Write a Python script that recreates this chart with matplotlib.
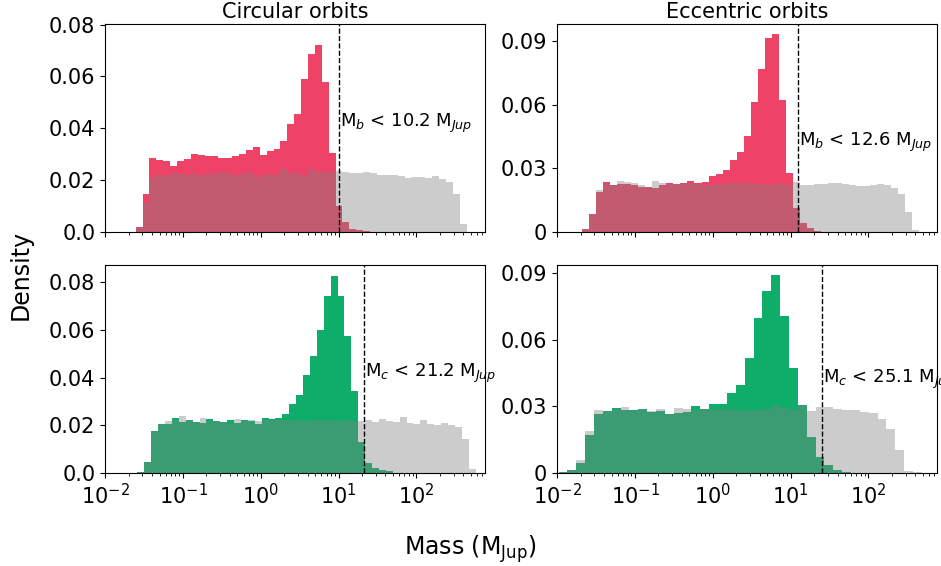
import numpy as np
import matplotlib
matplotlib.use("Agg")
import matplotlib.pyplot as plt

# log10 of the first bin edge and bin width (dex) for each panel
tl_start, tl_width = -1.608, 0.0886
tr_start, tr_width = -1.681, 0.0903
bl_start, bl_width = -1.586, 0.0887
br_start, br_width = -1.983, 0.1139

# planet b, circular orbits
tl_post = [0.0021, 0.0147, 0.0286, 0.0279, 0.0272, 0.0256, 0.0274, 0.0282, 0.0302, 0.0296,
           0.0292, 0.0292, 0.0284, 0.0286, 0.0292, 0.0299, 0.0318, 0.0326, 0.0296, 0.0313,
           0.0320, 0.0349, 0.0417, 0.0455, 0.0591, 0.0686, 0.0722, 0.0580, 0.0305, 0.0100,
           0.0040, 0.0012, 0.0009, 0.0004, 0, 0, 0, 0, 0, 0,
           0, 0, 0, 0, 0, 0, 0, 0]
tl_prior = [0.0020, 0.0111, 0.0208, 0.0219, 0.0216, 0.0227, 0.0227, 0.0219, 0.0225, 0.0220,
            0.0225, 0.0225, 0.0230, 0.0228, 0.0220, 0.0225, 0.0232, 0.0211, 0.0220, 0.0219,
            0.0219, 0.0241, 0.0229, 0.0229, 0.0214, 0.0241, 0.0232, 0.0231, 0.0233, 0.0237,
            0.0232, 0.0227, 0.0229, 0.0232, 0.0228, 0.0220, 0.0219, 0.0219, 0.0214, 0.0208,
            0.0211, 0.0211, 0.0207, 0.0216, 0.0205, 0.0192, 0.0147, 0.0031]

# planet b, eccentric orbits
tr_post = [0.0013, 0.0083, 0.0190, 0.0234, 0.0222, 0.0226, 0.0226, 0.0222, 0.0211, 0.0211,
           0.0209, 0.0220, 0.0231, 0.0228, 0.0230, 0.0241, 0.0230, 0.0236, 0.0264, 0.0274,
           0.0291, 0.0340, 0.0377, 0.0451, 0.0611, 0.0767, 0.0914, 0.0932, 0.0623, 0.0277,
           0.0112, 0.0041, 0.0017, 0.0006, 0, 0, 0, 0, 0, 0,
           0, 0, 0, 0, 0, 0, 0, 0]
tr_prior = [0.0013, 0.0083, 0.0198, 0.0226, 0.0222, 0.0241, 0.0234, 0.0230, 0.0220, 0.0211,
            0.0241, 0.0230, 0.0226, 0.0226, 0.0230, 0.0230, 0.0225, 0.0223, 0.0222, 0.0225,
            0.0228, 0.0230, 0.0230, 0.0229, 0.0228, 0.0226, 0.0222, 0.0226, 0.0225, 0.0222,
            0.0234, 0.0219, 0.0222, 0.0226, 0.0228, 0.0230, 0.0233, 0.0225, 0.0219, 0.0217,
            0.0217, 0.0219, 0.0225, 0.0222, 0.0206, 0.0178, 0.0094, 0.0010]

# planet c, circular orbits
bl_post = [0.0006, 0.0046, 0.0176, 0.0204, 0.0207, 0.0231, 0.0213, 0.0221, 0.0214, 0.0210,
           0.0225, 0.0218, 0.0213, 0.0224, 0.0210, 0.0224, 0.0217, 0.0207, 0.0230, 0.0228,
           0.0232, 0.0249, 0.0289, 0.0329, 0.0413, 0.0492, 0.0602, 0.0742, 0.0828, 0.0742,
           0.0574, 0.0343, 0.0130, 0.0043, 0.0022, 0.0014, 0.0007, 0, 0, 0,
           0, 0, 0, 0, 0, 0, 0, 0, 0]
bl_prior = [0.0006, 0.0046, 0.0176, 0.0204, 0.0218, 0.0222, 0.0238, 0.0221, 0.0214, 0.0232,
            0.0220, 0.0218, 0.0214, 0.0207, 0.0228, 0.0220, 0.0221, 0.0218, 0.0222, 0.0224,
            0.0222, 0.0224, 0.0224, 0.0222, 0.0220, 0.0224, 0.0222, 0.0221, 0.0224, 0.0220,
            0.0222, 0.0220, 0.0218, 0.0221, 0.0214, 0.0228, 0.0218, 0.0216, 0.0235, 0.0210,
            0.0207, 0.0221, 0.0207, 0.0203, 0.0210, 0.0200, 0.0193, 0.0144, 0.0018]

# planet c, eccentric orbits
br_post = [0.0003, 0.0012, 0.0047, 0.0170, 0.0265, 0.0278, 0.0293, 0.0286, 0.0286, 0.0290,
           0.0275, 0.0280, 0.0265, 0.0271, 0.0275, 0.0301, 0.0290, 0.0310, 0.0313, 0.0361,
           0.0395, 0.0516, 0.0700, 0.0821, 0.0892, 0.0707, 0.0474, 0.0305, 0.0162, 0.0072,
           0.0035, 0.0015, 0.0006, 0, 0, 0, 0, 0, 0, 0, 0]
br_prior = [0.0003, 0.0015, 0.0060, 0.0188, 0.0283, 0.0280, 0.0290, 0.0298, 0.0283, 0.0290,
            0.0280, 0.0290, 0.0268, 0.0295, 0.0290, 0.0285, 0.0288, 0.0286, 0.0290, 0.0287,
            0.0285, 0.0283, 0.0285, 0.0290, 0.0305, 0.0292, 0.0285, 0.0305, 0.0278, 0.0298,
            0.0298, 0.0290, 0.0283, 0.0283, 0.0275, 0.0271, 0.0245, 0.0200, 0.0102, 0.0009,
            0.0003]

# 2-sigma upper limits
limits = [10.2, 12.6, 21.2, 25.1]
limit_labels = [r'M$_b$ < 10.2 M$_{Jup}$', r'M$_b$ < 12.6 M$_{Jup}$',
                r'M$_c$ < 21.2 M$_{Jup}$', r'M$_c$ < 25.1 M$_{Jup}$']

red = '#EE4266'
green = '#0EAD69'

fig, axes = plt.subplots(2, 2, sharex=True, figsize=(9.41, 5.66), dpi=100)
fig.subplots_adjust(left=0.1116, right=0.9957, top=0.9576, bottom=0.1643,
                    wspace=0.19, hspace=0.159)

panels = [
    (axes[0, 0], tl_start, tl_width, tl_post, tl_prior, red),
    (axes[0, 1], tr_start, tr_width, tr_post, tr_prior, red),
    (axes[1, 0], bl_start, bl_width, bl_post, bl_prior, green),
    (axes[1, 1], br_start, br_width, br_post, br_prior, green),
]

for i, (ax, start, width, post, prior, col) in enumerate(panels):
    n = len(prior)
    edges = 10 ** (start + width * np.arange(n + 1))
    ax.stairs(post, edges, fill=True, color=col)
    ax.stairs(prior, edges, fill=True, color='gray', alpha=0.4)
    ax.axvline(limits[i], color='k', ls='--', lw=1)
    ax.text(limits[i] * 1.03, 0.042, limit_labels[i], fontsize=13, va='center', ha='left')
    ax.set_xscale('log')
    ax.tick_params(labelsize=15)

axes[0, 0].set_xlim(10 ** -2.002, 10 ** 2.88)

axes[0, 0].set_ylim(0, 0.0802)
axes[0, 1].set_ylim(0, 0.0980)
axes[1, 0].set_ylim(0, 0.0873)
axes[1, 1].set_ylim(0, 0.0937)

left_ticks = [0, 0.02, 0.04, 0.06, 0.08]
left_ticklabels = ['0.0', '0.02', '0.04', '0.06', '0.08']
right_ticks = [0, 0.03, 0.06, 0.09]
right_ticklabels = ['0', '0.03', '0.06', '0.09']
for ax in axes[:, 0]:
    ax.set_yticks(left_ticks)
    ax.set_yticklabels(left_ticklabels)
for ax in axes[:, 1]:
    ax.set_yticks(right_ticks)
    ax.set_yticklabels(right_ticklabels)

axes[0, 0].set_title('Circular orbits', fontsize=15, pad=4)
axes[0, 1].set_title('Eccentric orbits', fontsize=15, pad=4)

fig.text(0.5, 0.03, r'Mass (M$_{\rm Jup}$)', fontsize=17, ha='center', va='center')
fig.text(0.022, 0.515, 'Density', fontsize=17, rotation=90, ha='center', va='center')

fig.savefig('out.png', dpi=100)
